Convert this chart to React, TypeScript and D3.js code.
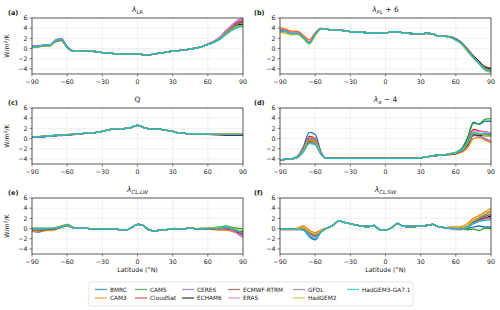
import React from 'react';
import * as d3 from 'd3';

// kernels, in legend order
const MODELS = ['BMRC', 'CAM3', 'CAM5', 'CloudSat', 'CERES', 'ECHAM6', 'ECMWF-RTRM', 'ERA5', 'GFDL', 'HadGEM2', 'HadGEM3-GA7.1'];
const COLORS = ['#1f77b4', '#ff7f0e', '#2ca02c', '#d62728', '#9467bd', '#000000', '#8c564b', '#e377c2', '#7f7f7f', '#bcbd22', '#17becf'];

const LATS = [-90, -85, -80, -75, -70, -65, -60, -55, -50, -45, -40, -35, -30, -25, -20, -15, -10, -5, 0,
  5, 10, 15, 20, 25, 30, 35, 40, 45, 50, 55, 60, 65, 70, 75, 80, 85, 90];
const X_TICKS = [-90, -60, -30, 0, 30, 60, 90];
const Y_TICKS = [-4, -2, 0, 2, 4, 6];

// each model: south (-90..-55) + shared mid (-50..50) + north (55..90)

// (a) lapse rate
const lrSouth = [
  [0.4, 0.5, 0.6, 0.6, 1.5, 1.8, 0.3, -0.5],
  [0.2, 0.3, 0.5, 0.5, 1.4, 1.7, 0.3, -0.5],
  [0.3, 0.4, 0.5, 0.5, 1.3, 1.6, 0.2, -0.5],
  [0.3, 0.4, 0.6, 0.6, 1.5, 1.8, 0.3, -0.5],
  [0.4, 0.5, 0.7, 0.7, 1.7, 2.0, 0.4, -0.4],
  [0.3, 0.4, 0.6, 0.6, 1.4, 1.6, 0.2, -0.5],
  [0.3, 0.4, 0.6, 0.6, 1.5, 1.8, 0.3, -0.5],
  [0.4, 0.5, 0.7, 0.7, 1.6, 1.9, 0.4, -0.4],
  [0.3, 0.4, 0.6, 0.6, 1.5, 1.8, 0.3, -0.5],
  [0.2, 0.3, 0.5, 0.5, 1.4, 1.7, 0.3, -0.5],
  [0.3, 0.4, 0.6, 0.6, 1.5, 1.8, 0.3, -0.5],
];
const lrMid = [-0.5, -0.4, -0.5, -0.6, -0.8, -0.9, -1.0, -1.1, -1.1, -1.1, -1.0, -1.2, -1.2, -1.0, -0.9, -0.7, -0.5, -0.4, -0.3, -0.1, 0.1];
const lrNorth = [
  [0.4, 0.8, 1.3, 2.0, 3.0, 4.0, 4.9, 5.3],
  [0.4, 0.8, 1.3, 2.0, 3.1, 4.1, 5.0, 5.4],
  [0.4, 0.8, 1.2, 1.8, 2.7, 3.6, 4.2, 4.4],
  [0.4, 0.8, 1.3, 2.0, 3.1, 4.2, 5.1, 5.5],
  [0.4, 0.9, 1.4, 2.2, 3.4, 4.5, 5.5, 5.9],
  [0.4, 0.8, 1.3, 1.9, 2.9, 3.8, 4.6, 4.8],
  [0.4, 0.8, 1.3, 2.0, 3.0, 4.0, 4.9, 5.2],
  [0.4, 0.9, 1.4, 2.1, 3.3, 4.4, 5.3, 5.8],
  [0.4, 0.8, 1.3, 2.0, 3.0, 4.0, 4.8, 5.1],
  [0.4, 0.8, 1.2, 1.9, 2.8, 3.7, 4.4, 4.6],
  [0.4, 0.8, 1.2, 1.8, 2.7, 3.5, 4.1, 4.4],
];

// (b) Planck + 6
const plSouth = [
  [3.8, 3.5, 3.1, 3.2, 2.3, 1.3, 2.9, 3.9],
  [4.1, 3.8, 3.4, 3.4, 2.6, 1.7, 3.1, 4.0],
  [3.6, 3.4, 3.0, 3.1, 2.2, 1.2, 2.8, 3.9],
  [3.7, 3.5, 3.1, 3.2, 2.3, 1.3, 2.9, 3.9],
  [3.6, 3.4, 3.0, 3.1, 2.2, 1.2, 2.8, 3.9],
  [3.7, 3.4, 3.0, 3.1, 2.2, 1.2, 2.8, 3.9],
  [3.6, 3.4, 3.0, 3.1, 2.2, 1.2, 2.8, 3.9],
  [3.7, 3.5, 3.1, 3.2, 2.3, 1.3, 2.9, 3.9],
  [3.5, 3.3, 2.9, 3.0, 2.1, 1.1, 2.7, 3.8],
  [3.2, 3.0, 2.7, 2.8, 1.9, 0.9, 2.5, 3.8],
  [3.5, 3.3, 2.9, 3.0, 2.1, 1.1, 2.7, 3.9],
];
const plMid = [3.8, 3.6, 3.6, 3.5, 3.3, 3.2, 3.2, 3.1, 3.1, 3.0, 3.0, 3.3, 3.3, 3.1, 3.0, 2.9, 2.9, 3.0, 2.9, 2.5, 2.4];
const plNorth = [
  [2.3, 1.8, 1.0, -0.3, -1.6, -2.8, -3.9, -4.2],
  [2.4, 1.9, 1.2, -0.1, -1.4, -2.6, -3.6, -3.8],
  [2.3, 1.8, 1.0, -0.3, -1.6, -2.8, -3.9, -4.3],
  [2.3, 1.8, 1.0, -0.3, -1.6, -2.8, -3.9, -4.2],
  [2.3, 1.8, 1.0, -0.3, -1.6, -2.8, -3.9, -4.2],
  [2.3, 1.9, 1.1, -0.2, -1.5, -2.6, -3.7, -4.0],
  [2.3, 1.8, 1.0, -0.3, -1.6, -2.8, -3.9, -4.2],
  [2.3, 1.8, 1.0, -0.3, -1.6, -2.8, -3.9, -4.2],
  [2.3, 1.8, 1.0, -0.3, -1.6, -2.8, -3.9, -4.3],
  [2.2, 1.6, 0.8, -0.6, -1.9, -3.1, -4.3, -4.7],
  [2.2, 1.7, 0.9, -0.4, -1.8, -3.0, -4.1, -4.5],
];

// (c) water vapour
const qSouth = [
  [0.3, 0.35, 0.4, 0.5, 0.6, 0.7, 0.75, 0.8],
  [0.3, 0.35, 0.4, 0.5, 0.6, 0.7, 0.75, 0.8],
  [0.3, 0.35, 0.4, 0.5, 0.6, 0.7, 0.75, 0.8],
  [0.25, 0.3, 0.35, 0.45, 0.55, 0.6, 0.7, 0.75],
  [0.3, 0.35, 0.4, 0.5, 0.6, 0.7, 0.75, 0.8],
  [0.3, 0.35, 0.4, 0.5, 0.6, 0.7, 0.75, 0.8],
  [0.3, 0.35, 0.4, 0.5, 0.6, 0.7, 0.75, 0.8],
  [0.3, 0.35, 0.4, 0.5, 0.6, 0.7, 0.75, 0.8],
  [0.3, 0.35, 0.4, 0.5, 0.6, 0.7, 0.75, 0.8],
  [0.35, 0.4, 0.45, 0.55, 0.65, 0.75, 0.8, 0.85],
  [0.3, 0.35, 0.4, 0.5, 0.6, 0.7, 0.75, 0.8],
];
const qMid = [0.9, 1.0, 1.1, 1.2, 1.4, 1.7, 1.9, 1.9, 2.0, 2.2, 2.6, 2.2, 1.9, 1.8, 1.8, 1.6, 1.4, 1.1, 1.0, 0.9, 0.9];
const qNorth = [
  [0.9, 0.85, 0.85, 0.8, 0.8, 0.8, 0.8, 0.8],
  [0.9, 0.85, 0.85, 0.8, 0.8, 0.8, 0.8, 0.8],
  [0.9, 0.85, 0.85, 0.8, 0.8, 0.8, 0.8, 0.8],
  [0.85, 0.8, 0.75, 0.7, 0.7, 0.7, 0.7, 0.7],
  [0.9, 0.85, 0.85, 0.8, 0.8, 0.8, 0.8, 0.8],
  [0.9, 0.85, 0.8, 0.8, 0.75, 0.75, 0.75, 0.75],
  [0.9, 0.85, 0.85, 0.8, 0.8, 0.8, 0.8, 0.8],
  [0.9, 0.85, 0.85, 0.8, 0.8, 0.8, 0.8, 0.8],
  [0.9, 0.85, 0.85, 0.8, 0.8, 0.8, 0.8, 0.8],
  [0.95, 0.9, 0.9, 0.9, 0.9, 0.9, 0.9, 0.9],
  [0.9, 0.85, 0.85, 0.8, 0.8, 0.8, 0.8, 0.8],
];

// (d) surface albedo - 4
const alSouth = [
  [-4.2, -4.1, -4.0, -3.4, -1.6, 1.2, 0.8, -2.6],
  [-4.2, -4.1, -4.0, -3.7, -2.5, -0.6, -1.0, -3.1],
  [-4.2, -4.1, -4.0, -3.6, -2.2, -0.2, -0.6, -3.0],
  [-4.2, -4.1, -4.0, -3.5, -1.9, 0.4, 0.0, -2.9],
  [-4.2, -4.1, -4.0, -3.7, -2.5, -0.8, -1.1, -3.1],
  [-4.2, -4.1, -4.0, -3.6, -2.3, -0.4, -0.7, -3.0],
  [-4.2, -4.1, -4.0, -3.6, -2.2, -0.2, -0.6, -3.0],
  [-4.2, -4.1, -4.0, -3.5, -2.0, 0.2, -0.2, -2.9],
  [-4.2, -4.1, -4.0, -3.6, -2.1, 0.0, -0.4, -3.0],
  [-4.2, -4.1, -4.0, -3.6, -2.3, -0.3, -0.7, -3.0],
  [-4.2, -4.1, -4.0, -3.7, -2.6, -1.0, -1.2, -3.1],
];
const alMid = [-3.9, -3.9, -3.9, -3.9, -3.9, -3.9, -3.9, -3.9, -3.9, -3.9, -3.9, -3.9, -3.9, -3.9, -3.9, -3.9, -3.8, -3.6, -3.4, -3.3, -3.2];
const alNorth = [
  [-3.0, -2.7, -2.0, 0.2, 3.2, 2.8, 3.4, 3.4],
  [-3.2, -3.0, -2.7, -1.8, 0.0, 0.2, -0.3, -0.8],
  [-3.0, -2.7, -2.0, 0.0, 3.0, 2.9, 3.8, 3.9],
  [-3.0, -2.8, -2.2, -0.6, 1.8, 1.5, 1.3, 1.0],
  [-3.0, -2.8, -2.4, -1.2, 0.6, 0.5, 0.0, -0.5],
  [-3.1, -2.9, -2.4, -1.3, 0.8, 0.7, 0.6, 0.5],
  [-3.0, -2.8, -2.3, -1.0, 1.0, 0.9, 0.8, 0.7],
  [-3.0, -2.8, -2.2, -0.8, 1.5, 1.4, 1.3, 1.1],
  [-3.0, -2.8, -2.3, -1.1, 0.9, 0.8, 0.7, 0.6],
  [-2.9, -2.7, -2.3, -1.0, 1.0, 0.9, 0.6, 0.4],
  [-3.0, -2.8, -2.2, -0.8, 1.2, 1.0, 0.9, 1.0],
];

// (e) cloud LW
const lwSouth = [
  [-0.5, -0.7, -0.4, -0.2, 0.0, 0.3, 0.5, 0.2],
  [-0.6, -0.5, -0.4, -0.4, -0.2, 0.2, 0.5, 0.2],
  [0.1, 0.1, 0.1, 0.1, 0.2, 0.5, 0.8, 0.3],
  [-0.2, -0.2, -0.1, 0.0, 0.0, 0.3, 0.6, 0.2],
  [-0.1, -0.1, 0.0, 0.0, 0.1, 0.4, 0.6, 0.2],
  [-0.2, -0.2, -0.2, -0.1, 0.0, 0.3, 0.6, 0.2],
  [-0.2, -0.2, -0.1, 0.0, 0.0, 0.3, 0.6, 0.2],
  [-0.1, -0.1, 0.0, 0.0, 0.1, 0.3, 0.6, 0.2],
  [-0.2, -0.2, -0.1, 0.0, 0.0, 0.3, 0.6, 0.2],
  [0.0, 0.0, 0.0, 0.0, 0.1, 0.4, 0.7, 0.2],
  [0.0, 0.0, 0.0, 0.0, 0.1, 0.3, 0.6, 0.2],
];
const lwMid = [0.1, 0.1, 0.0, 0.0, 0.0, 0.0, -0.1, -0.2, -0.3, 0.2, 0.8, 0.6, -0.3, -0.4, -0.3, -0.2, 0.0, 0.0, 0.0, 0.1, 0.0];
const lwNorth = [
  [0.0, 0.0, 0.1, 0.1, 0.2, 0.0, -0.6, -1.0],
  [-0.1, -0.1, -0.2, -0.3, -0.3, -0.5, -0.9, -1.2],
  [0.1, 0.1, 0.2, 0.3, 0.5, 0.3, 0.1, 0.0],
  [0.0, 0.0, 0.1, 0.1, 0.1, -0.1, -0.7, -1.1],
  [0.0, 0.0, 0.1, 0.0, 0.0, -0.3, -1.0, -1.7],
  [0.0, 0.0, 0.0, 0.0, 0.0, -0.2, -0.7, -0.6],
  [0.0, 0.0, 0.1, 0.1, 0.2, 0.0, -0.5, -0.9],
  [0.0, 0.0, 0.1, 0.1, 0.1, -0.2, -0.9, -1.5],
  [0.0, 0.0, 0.1, 0.1, 0.2, 0.0, -0.5, -0.9],
  [0.0, 0.1, 0.2, 0.2, 0.4, 0.2, -0.2, -0.4],
  [0.0, 0.0, 0.1, 0.1, 0.3, 0.1, -0.4, -0.8],
];

// (f) cloud SW
const swSouth = [
  [-0.1, -0.1, -0.1, -0.1, -0.3, -1.6, -2.2, -0.7],
  [-0.1, -0.1, -0.1, 0.1, 0.5, -0.3, -0.8, -0.3],
  [-0.1, -0.1, -0.1, -0.1, 0.0, -0.9, -1.4, -0.5],
  [-0.1, -0.1, -0.1, 0.0, 0.1, -0.8, -1.3, -0.4],
  [-0.2, -0.2, -0.2, -0.2, -0.2, -1.1, -1.6, -0.5],
  [-0.1, -0.1, -0.1, -0.1, -0.1, -1.0, -1.5, -0.5],
  [-0.1, -0.1, -0.1, -0.1, -0.1, -1.0, -1.5, -0.5],
  [-0.2, -0.2, -0.2, -0.2, -0.2, -1.2, -1.7, -0.6],
  [-0.1, -0.1, -0.1, -0.1, 0.0, -0.9, -1.4, -0.5],
  [-0.1, -0.1, -0.1, 0.0, 0.2, -0.6, -1.1, -0.4],
  [-0.1, -0.1, -0.1, -0.1, -0.3, -1.4, -2.0, -0.7],
];
const swMid = [0.1, 0.6, 1.5, 1.2, 0.9, 0.7, 0.5, 0.4, 0.6, -0.2, -0.3, 0.1, 1.0, 0.5, 0.4, 0.4, 0.5, 0.6, 0.8, 0.4, 0.2];
const swNorth = [
  [0.1, 0.0, -0.1, 0.0, 0.3, 0.5, 0.3, 0.3],
  [0.3, 0.3, 0.4, 1.0, 2.0, 2.6, 3.3, 4.0],
  [0.1, 0.0, -0.1, -0.2, -0.1, -0.4, 0.1, 0.0],
  [0.1, 0.0, 0.0, 0.4, 1.2, 1.6, 1.9, 2.0],
  [0.0, -0.2, -0.2, 0.2, 1.0, 1.6, 2.0, 2.3],
  [0.1, 0.0, 0.0, 0.3, 1.0, 1.5, 2.0, 2.5],
  [0.1, 0.0, -0.1, 0.3, 1.2, 1.8, 2.4, 2.8],
  [0.0, -0.2, -0.2, 0.2, 1.0, 1.5, 1.9, 2.2],
  [0.1, 0.1, 0.1, 0.5, 1.5, 2.1, 2.7, 3.3],
  [0.2, 0.2, 0.2, 0.6, 1.6, 2.3, 3.0, 3.5],
  [0.1, 0.0, -0.1, 0.3, 1.0, 1.4, 1.6, 1.7],
];

type Title = { sym: string; sub: string; tail: string };

const PANELS: { tag: string; title: Title; south: number[][]; mid: number[]; north: number[][] }[] = [
  { tag: '(a)', title: { sym: 'λ', sub: 'LR', tail: '' }, south: lrSouth, mid: lrMid, north: lrNorth },
  { tag: '(b)', title: { sym: 'λ', sub: 'PL', tail: ' + 6' }, south: plSouth, mid: plMid, north: plNorth },
  { tag: '(c)', title: { sym: 'Q', sub: '', tail: '' }, south: qSouth, mid: qMid, north: qNorth },
  { tag: '(d)', title: { sym: 'λ', sub: 'a', tail: ' − 4' }, south: alSouth, mid: alMid, north: alNorth },
  { tag: '(e)', title: { sym: 'λ', sub: 'CL,LW', tail: '' }, south: lwSouth, mid: lwMid, north: lwNorth },
  { tag: '(f)', title: { sym: 'λ', sub: 'CL,SW', tail: '' }, south: swSouth, mid: swMid, north: swNorth },
];

const FONT = 'DejaVu Sans';
const COL_X = [32, 280];
const TAG_X = [8, 254];
const ROW_Y = [18, 108, 198];
const AX_W = 211;
const AX_H = 56;
const LEGEND_COL_X = [95, 135, 182, 228, 293, 347];

const fmt = (v: number) => (v < 0 ? '−' + Math.abs(v) : String(v));

const Panel: React.FC<{ idx: number }> = ({ idx }) => {
  const p = PANELS[idx];
  const col = idx % 2;
  const row = Math.floor(idx / 2);
  const x0 = COL_X[col];
  const y0 = ROW_Y[row];
  const x = d3.scaleLinear().domain([-90, 90]).range([0, AX_W]);
  const y = d3.scaleLinear().domain([-5, 6]).range([AX_H, 0]);
  const line = d3.line<number>()
    .x((_, i) => x(LATS[i]))
    .y(d => y(d))
    .curve(d3.curveMonotoneX);
  const clipId = `clip-${idx}`;

  return (
    <g transform={`translate(${x0},${y0})`}>
      <defs>
        <clipPath id={clipId}><rect x={0} y={0} width={AX_W} height={AX_H} /></clipPath>
      </defs>
      {/* grid */}
      {X_TICKS.map(t => (
        <line key={'gx' + t} x1={x(t)} x2={x(t)} y1={0} y2={AX_H} stroke="#e6e6e6" strokeWidth={0.6} />
      ))}
      {Y_TICKS.map(t => (
        <line key={'gy' + t} x1={0} x2={AX_W} y1={y(t)} y2={y(t)} stroke="#e6e6e6" strokeWidth={0.6} />
      ))}
      {/* series */}
      <g clipPath={`url(#${clipId})`}>
        {MODELS.map((m, mi) => {
          const vals = [...p.south[mi], ...p.mid, ...p.north[mi]];
          return (
            <path key={m} d={line(vals) || ''} fill="none" stroke={COLORS[mi]}
              strokeWidth={1.3} strokeLinejoin="round" />
          );
        })}
      </g>
      <rect x={0} y={0} width={AX_W} height={AX_H} fill="none" stroke="#333" strokeWidth={0.8} />
      {/* ticks */}
      {X_TICKS.map(t => (
        <g key={'tx' + t}>
          <line x1={x(t)} x2={x(t)} y1={AX_H} y2={AX_H + 2.5} stroke="#333" strokeWidth={0.6} />
          <text x={x(t)} y={AX_H + 9.5} textAnchor="middle" fontSize={6.3} fill="#222">{fmt(t)}</text>
        </g>
      ))}
      {Y_TICKS.map(t => (
        <g key={'ty' + t}>
          <line x1={-2.5} x2={0} y1={y(t)} y2={y(t)} stroke="#333" strokeWidth={0.6} />
          <text x={-4.5} y={y(t) + 2.2} textAnchor="end" fontSize={6.3} fill="#222">{fmt(t)}</text>
        </g>
      ))}
      {/* title */}
      <text x={AX_W / 2} y={-6} textAnchor="middle" fontSize={7.5} fill="#222">
        <tspan fontStyle={p.title.sub ? 'italic' : 'normal'}>{p.title.sym}</tspan>
        {p.title.sub && <tspan fontStyle="italic" fontSize={5.3} dy={1.8}>{p.title.sub}</tspan>}
        {p.title.tail && <tspan dy={p.title.sub ? -1.8 : 0}>{p.title.tail}</tspan>}
      </text>
      <text x={TAG_X[col] - x0} y={-3} fontSize={6.5} fontWeight="bold" fill="#222">{p.tag}</text>
      {col === 0 && (
        <text transform={`translate(${-23},${AX_H / 2}) rotate(-90)`} textAnchor="middle" fontSize={6.3} fill="#222">
          W/m<tspan fontSize={4.4} dy={-2.2}>2</tspan><tspan dy={2.2}>/K</tspan>
        </text>
      )}
      {row === 2 && (
        <text x={AX_W / 2} y={AX_H + 18} textAnchor="middle" fontSize={6.3} fill="#222">Latitude (°N)</text>
      )}
    </g>
  );
};

const Legend: React.FC = () => {
  const rows = 2;
  return (
    <g>
      <rect x={89} y={282} width={324} height={24} rx={2} fill="#fff" stroke="#d9d9d9" strokeWidth={0.7} />
      {MODELS.map((m, i) => {
        const c = Math.floor(i / rows);
        const r = i % rows;
        const lx = LEGEND_COL_X[c];
        const ly = 289.5 + r * 8.5;
        return (
          <g key={m}>
            <line x1={lx} x2={lx + 12} y1={ly} y2={ly} stroke={COLORS[i]} strokeWidth={1.3} strokeOpacity={0.75} />
            <text x={lx + 15} y={ly + 2} fontSize={5.8} fill="#222">{m}</text>
          </g>
        );
      })}
    </g>
  );
};

export default function App() {
  return (
    <svg width={500} height={310} style={{ position: 'absolute', left: 0, top: 0, background: '#fff' }}
      fontFamily={FONT}>
      <rect width={500} height={310} fill="#fff" />
      {PANELS.map((_, i) => <Panel key={i} idx={i} />)}
      <Legend />
    </svg>
  );
}
